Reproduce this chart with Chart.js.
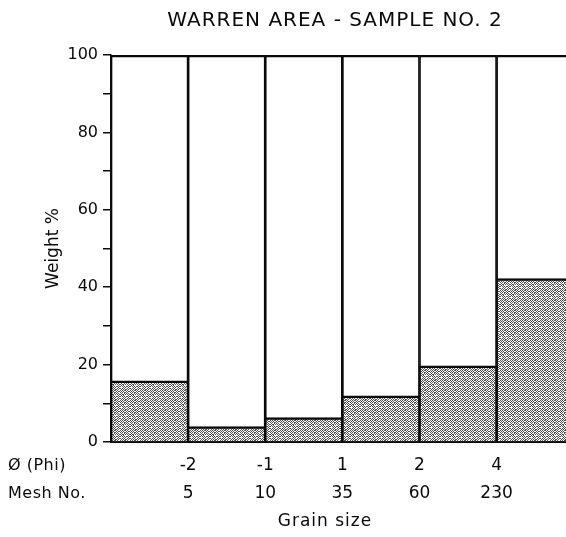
<!DOCTYPE html>
<html><head><meta charset="utf-8">
<script src="https://cdn.jsdelivr.net/npm/chart.js@4"></script>
<style>html,body{margin:0;padding:0;background:#fff;overflow:hidden}#wrap{position:relative;width:566px;height:537px}</style>
</head><body><div id="wrap"><canvas id="c"></canvas></div>
<script>
// ---- data ----
const binNames   = ['< -2', '-2 to -1', '-1 to 1', '1 to 2', '2 to 4', '> 4'];
const weightPct  = [15.8, 4.0, 6.3, 11.9, 19.7, 42.2];
const totalPct   = [100, 100, 100, 100, 100, 100];
const phiLabels  = ['-2', '-1', '1', '2', '4'];
const meshLabels = ['5', '10', '35', '60', '230'];
const titleText  = 'WARREN AREA - SAMPLE NO. 2';
const yTitle     = 'Weight %';
const xTitle     = 'Grain size';
const rowNames   = ['\u00D8 (Phi)', 'Mesh No.'];

const FONT = '"DejaVu Sans", sans-serif';
const INK = '#0a0a0a';
const X_PAD = 10, X_LINE = 28;

// stipple fill pattern
function makeStipple() {
  const rows = [
    '1010110100',
    '0101001011',
    '1010110100',
    '0100101010',
    '1011010101',
    '0101000010',
    '1010101101',
    '0001010010',
    '1010100101',
    '0101011010'
  ];
  const n = rows.length;
  const c = document.createElement('canvas');
  c.width = n; c.height = n;
  const g = c.getContext('2d');
  g.fillStyle = '#ffffff'; g.fillRect(0, 0, n, n);
  g.fillStyle = '#4f4f4f';
  rows.forEach((r, y) => { for (let x = 0; x < n; x++) if (r[x] === '1') g.fillRect(x, y, 1, 1); });
  return g.createPattern(c, 'repeat');
}
const stipple = makeStipple();

const textPlugin = {
  id: 'texts',
  afterDraw(chart) {
    const ctx = chart.ctx, xs = chart.scales.x;
    ctx.save();
    ctx.fillStyle = INK;
    ctx.textBaseline = 'middle';
    ctx.textAlign = 'center';
    ctx.font = '20px ' + FONT;
    ctx.letterSpacing = '1px';
    ctx.fillText(titleText, 335, 21);
    ctx.font = '16px ' + FONT;
    ctx.letterSpacing = '0.5px';
    ctx.textAlign = 'left';
    const y0 = xs.top + X_PAD + X_LINE / 2;
    ctx.fillText(rowNames[0], 8, y0);
    ctx.fillText(rowNames[1], 8, y0 + X_LINE);
    ctx.textAlign = 'center';
    ctx.font = '17px ' + FONT;
    ctx.letterSpacing = '1px';
    ctx.fillText(xTitle, 325, 522);
    ctx.restore();
  }
};

new Chart(document.getElementById('c'), {
  type: 'bar',
  data: {
    labels: binNames,
    datasets: [
      {
        data: weightPct.map((v, i) => ({ x: i + 0.5, y: v })),
        backgroundColor: stipple,
        borderColor: INK,
        borderWidth: { top: 2.5, left: 1, right: 1, bottom: 0 },
        borderSkipped: 'start',
        grouped: false,
        barPercentage: 1, categoryPercentage: 1,
        order: 2
      },
      {
        data: totalPct.map((v, i) => ({ x: i + 0.5, y: v })),
        backgroundColor: 'rgba(0,0,0,0)',
        borderColor: INK,
        borderWidth: { top: 2, left: 1, right: 1, bottom: 0 },
        borderSkipped: 'start',
        grouped: false,
        barPercentage: 1, categoryPercentage: 1,
        order: 1
      }
    ]
  },
  options: {
    responsive: true,
    maintainAspectRatio: false,
    animation: false,
    layout: { padding: { top: 55, bottom: 19, left: 0, right: 0 } },
    plugins: { legend: { display: false }, tooltip: { enabled: false }, title: { display: false } },
    scales: {
      x: {
        type: 'linear', min: 0, max: 5.9, offset: false,
        grid: { display: false, drawTicks: false },
        border: { display: true, color: INK, width: 2 },
        afterBuildTicks: s => { s.ticks = phiLabels.map((_, i) => ({ value: i + 1 })); },
        ticks: {
          padding: X_PAD, color: INK, maxRotation: 0, autoSkip: false,
          font: { family: FONT, size: 17, lineHeight: X_LINE / 17 },
          callback: v => { const i = Math.round(v) - 1; return [phiLabels[i], meshLabels[i]]; }
        }
      },
      y: {
        min: 0, max: 100,
        afterFit: s => { s.width = 111; },
        grid: { drawOnChartArea: false, drawTicks: true, tickLength: 8, color: INK, lineWidth: 1.5 },
        border: { display: true, color: INK, width: 1.5 },
        ticks: {
          stepSize: 10, padding: 5, color: INK,
          font: { family: FONT, size: 16 },
          callback: v => (v % 20 === 0 ? String(v) : '')
        },
        title: { display: true, text: yTitle, color: INK, padding: { top: 43, bottom: 0 }, font: { family: FONT, size: 17 } }
      }
    }
  },
  plugins: [textPlugin]
});
</script>
</body></html>
